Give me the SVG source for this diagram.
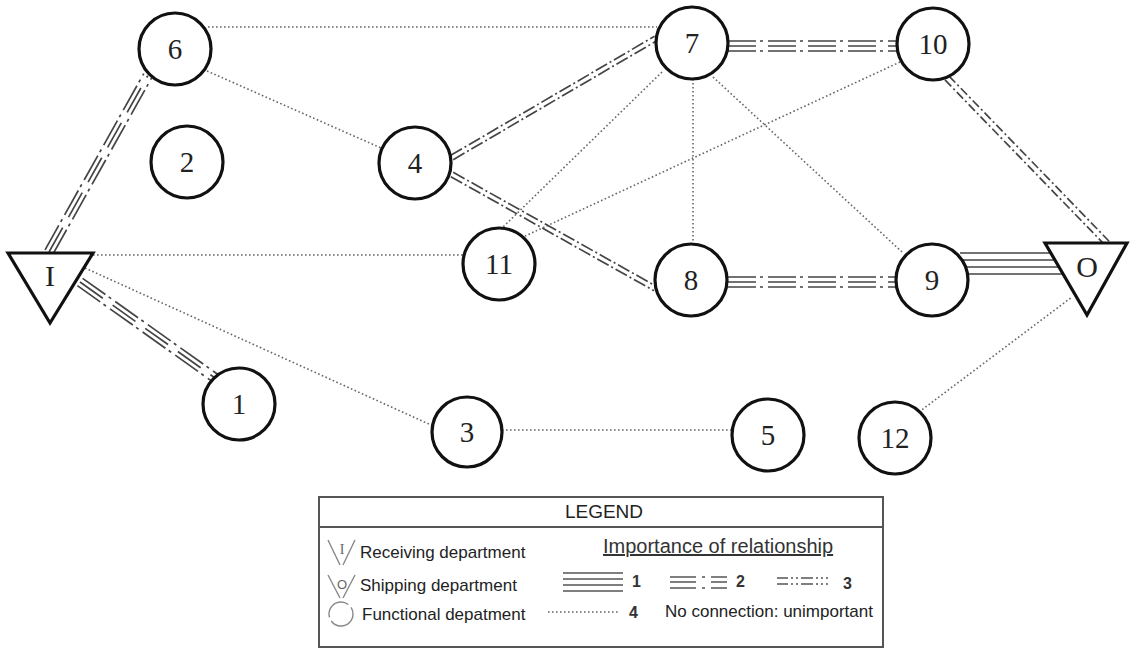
<svg xmlns="http://www.w3.org/2000/svg" width="1133" height="648" viewBox="0 0 1133 648">
  <style>
    .node circle { fill: #fff; stroke: #111; stroke-width: 3.2; }
    .node polygon { fill: #fff; stroke: #111; stroke-width: 3.2; stroke-linejoin: miter; }
    .num { font-family: "Liberation Serif", "Times New Roman", serif; font-size: 29px; fill: #222; text-anchor: middle; }
    .dot { stroke: #666; stroke-width: 1.6; stroke-dasharray: 1.6 2.4; fill: none; }
    .solid { stroke: #444; stroke-width: 1.7; fill: none; }
    .dd { stroke: #444; stroke-width: 1.7; stroke-dasharray: 13 3 2 3; fill: none; }
    .dd2 { stroke: #444; stroke-width: 1.7; stroke-dasharray: 9 3 2 3; fill: none; }
    .bar { stroke: #444; stroke-width: 1.7; stroke-dasharray: 28 4 3 5; fill: none; }
    .barmid { stroke: #444; stroke-width: 1.7; stroke-dasharray: 28 12; fill: none; }
    .lg { font-family: "Liberation Sans", Arial, sans-serif; font-size: 17px; fill: #222; }
    .lgnum { font-family: "Liberation Sans", Arial, sans-serif; font-size: 16px; font-weight: bold; fill: #333; }
  </style>

  <rect width="1133" height="648" fill="#fff"/>

  <!-- relationships -->
  <g id="connectors">
    <!-- importance 4: dotted -->
    <line class="dot" x1="208" y1="27" x2="657" y2="27"/>
    <line class="dot" x1="207" y1="71" x2="381" y2="148"/>
    <line class="dot" x1="93" y1="255" x2="463" y2="255"/>
    <line class="dot" x1="85" y1="268" x2="431" y2="425"/>
    <line class="dot" x1="502" y1="430" x2="732" y2="430"/>
    <line class="dot" x1="919" y1="412" x2="1072" y2="297"/>
    <line class="dot" x1="693" y1="79" x2="693" y2="244"/>
    <line class="dot" x1="713" y1="77" x2="902" y2="252"/>
    <line class="dot" x1="662" y1="72" x2="502" y2="228"/>
    <line class="dot" x1="900" y1="62" x2="525" y2="236"/>

    <!-- 4 - 7 -->
    <g transform="translate(452,157.5) rotate(-30.3)">
      <line class="dd" x1="0" y1="-2.5" x2="236" y2="-2.5"/>
      <line class="dd" x1="0" y1="2.5" x2="236" y2="2.5"/>
    </g>
    <!-- 4 - 8 -->
    <g transform="translate(452,174.5) rotate(29.3)">
      <line class="dd" x1="0" y1="-2.5" x2="233" y2="-2.5"/>
      <line class="dd" x1="0" y1="2.5" x2="233" y2="2.5"/>
    </g>
    <!-- 10 - O -->
    <g transform="translate(947,78) rotate(45.9)">
      <line class="dd2" x1="0" y1="-2.8" x2="232" y2="-2.8"/>
      <line class="dd2" x1="0" y1="2.8" x2="232" y2="2.8"/>
    </g>
    <!-- 6 - I -->
    <g transform="translate(49,252) rotate(-60.75)">
      <line class="bar" x1="0" y1="-4.5" x2="202" y2="-4.5"/>
      <line class="barmid" x1="0" y1="0" x2="202" y2="0"/>
      <line class="bar" x1="0" y1="4.5" x2="202" y2="4.5"/>
    </g>
    <!-- I - 1 -->
    <g transform="translate(80,282) rotate(35.4)">
      <line class="bar" x1="0" y1="-4.5" x2="166" y2="-4.5"/>
      <line class="barmid" x1="0" y1="0" x2="166" y2="0"/>
      <line class="bar" x1="0" y1="4.5" x2="166" y2="4.5"/>
    </g>
    <!-- 7 - 10 -->
    <g transform="translate(728,46)">
      <line class="bar" x1="0" y1="-5" x2="170" y2="-5"/>
      <line class="barmid" x1="0" y1="0" x2="170" y2="0"/>
      <line class="bar" x1="0" y1="5" x2="170" y2="5"/>
    </g>
    <!-- 8 - 9 -->
    <g transform="translate(728,282)">
      <line class="bar" x1="0" y1="-5" x2="170" y2="-5"/>
      <line class="barmid" x1="0" y1="0" x2="170" y2="0"/>
      <line class="bar" x1="0" y1="5" x2="170" y2="5"/>
    </g>
    <!-- 9 - O : importance 1 -->
    <g>
      <line class="solid" x1="960" y1="253" x2="1080" y2="253"/>
      <line class="solid" x1="960" y1="260" x2="1080" y2="260"/>
      <line class="solid" x1="960" y1="267" x2="1080" y2="267"/>
      <line class="solid" x1="960" y1="274" x2="1080" y2="274"/>
    </g>
  </g>

  <!-- departments -->
  <g id="node-I" class="node">
    <polygon points="8,253 93,253 50,323"/>
    <text class="num" x="50" y="286" style="font-size:30px">I</text>
  </g>
  <g id="node-O" class="node">
    <polygon points="1045,243 1127,243 1087,315"/>
    <text class="num" x="1087" y="277" style="font-size:30px">O</text>
  </g>
  <g id="node-1" class="node"><circle cx="239" cy="404" r="36"/><text class="num" x="239" y="414">1</text></g>
  <g id="node-2" class="node"><circle cx="187" cy="162" r="36"/><text class="num" x="187" y="172">2</text></g>
  <g id="node-3" class="node"><circle cx="467" cy="432" r="35"/><text class="num" x="467" y="442">3</text></g>
  <g id="node-4" class="node"><circle cx="415" cy="163" r="36"/><text class="num" x="415" y="173">4</text></g>
  <g id="node-5" class="node"><circle cx="768" cy="435" r="36"/><text class="num" x="768" y="445">5</text></g>
  <g id="node-6" class="node"><circle cx="175" cy="49" r="36"/><text class="num" x="175" y="59">6</text></g>
  <g id="node-7" class="node"><circle cx="692" cy="43" r="36"/><text class="num" x="692" y="53">7</text></g>
  <g id="node-8" class="node"><circle cx="691" cy="280" r="36"/><text class="num" x="691" y="290">8</text></g>
  <g id="node-9" class="node"><circle cx="932" cy="280" r="36"/><text class="num" x="932" y="290">9</text></g>
  <g id="node-10" class="node"><circle cx="933" cy="44" r="36"/><text class="num" x="933" y="54">10</text></g>
  <g id="node-11" class="node"><circle cx="499" cy="264" r="36"/><text class="num" x="499" y="274">11</text></g>
  <g id="node-12" class="node"><circle cx="895" cy="438" r="36"/><text class="num" x="895" y="448">12</text></g>

  <!-- legend -->
  <g id="legend">
    <rect x="319" y="497" width="564" height="150" fill="#fff" stroke="#555" stroke-width="2"/>
    <line x1="319" y1="527" x2="883" y2="527" stroke="#555" stroke-width="2"/>
    <text x="604" y="518" text-anchor="middle" style="font-family:'Liberation Sans',Arial,sans-serif;font-size:19px;fill:#222">LEGEND</text>

    <!-- symbol keys -->
    <g stroke="#888" stroke-width="1.4" fill="none">
      <line x1="328" y1="540" x2="340" y2="565"/>
      <line x1="355" y1="540" x2="343" y2="565"/>
      <line x1="328" y1="575" x2="340" y2="598"/>
      <line x1="355" y1="575" x2="343" y2="598"/>
      <circle cx="341" cy="614" r="12" stroke-dasharray="30 4"/>
    </g>
    <text x="342" y="554" text-anchor="middle" style="font-family:'Liberation Serif',serif;font-size:14px;fill:#666">I</text>
    <text x="342" y="589" text-anchor="middle" style="font-family:'Liberation Sans',sans-serif;font-size:13px;fill:#666">O</text>
    <text class="lg" x="360" y="558">Receiving department</text>
    <text class="lg" x="360" y="591">Shipping department</text>
    <text class="lg" x="362" y="620">Functional depatment</text>

    <text x="603" y="553" text-decoration="underline" style="font-family:'Liberation Sans',Arial,sans-serif;font-size:20px;fill:#333">Importance of relationship</text>

    <!-- importance 1 -->
    <g stroke="#555" stroke-width="1.6">
      <line x1="563" y1="573" x2="623" y2="573"/>
      <line x1="563" y1="579" x2="623" y2="579"/>
      <line x1="563" y1="585" x2="623" y2="585"/>
      <line x1="563" y1="591" x2="623" y2="591"/>
    </g>
    <text class="lgnum" x="632" y="587">1</text>
    <!-- importance 2 -->
    <g stroke="#555" stroke-width="1.6">
      <line x1="670" y1="577" x2="727" y2="577" stroke-dasharray="26 6 3 6 20"/>
      <line x1="670" y1="582" x2="727" y2="582" stroke-dasharray="26 15 20"/>
      <line x1="670" y1="588" x2="727" y2="588" stroke-dasharray="26 6 3 6 20"/>
    </g>
    <text class="lgnum" x="736" y="587">2</text>
    <!-- importance 3 -->
    <g stroke="#555" stroke-width="1.4">
      <line x1="777" y1="578" x2="838" y2="578" stroke-dasharray="11 3 2 3 2 3 12 3 2 3 2 3 2 10"/>
      <line x1="777" y1="584" x2="838" y2="584" stroke-dasharray="11 3 2 3 2 3 12 3 2 3 2 3 2 10"/>
    </g>
    <text class="lgnum" x="843" y="589">3</text>
    <!-- importance 4 -->
    <line class="dot" x1="548" y1="612" x2="620" y2="612"/>
    <text class="lgnum" x="629" y="618">4</text>
    <text class="lg" x="665" y="617">No connection: unimportant</text>
  </g>
</svg>
